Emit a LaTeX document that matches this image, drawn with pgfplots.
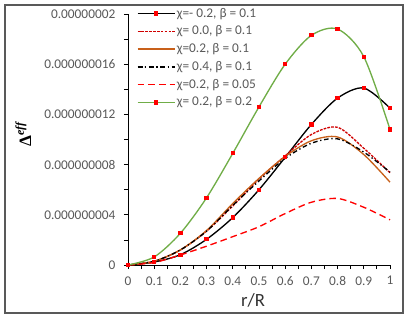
\documentclass[border=0pt]{standalone}
\usepackage{pgfplots}
\pgfplotsset{compat=1.18}
\usepackage{fontspec}
\setmainfont{Carlito}
\newfontfamily\serifl{Liberation Serif}
\definecolor{tickgray}{HTML}{595959}
\definecolor{bordergray}{HTML}{595959}
\definecolor{dred}{HTML}{D00000}
\definecolor{orangeb}{HTML}{C8601A}
\definecolor{exgreen}{HTML}{70AD47}
\definecolor{exred}{HTML}{FF0000}
\newcommand{\legtxt}[1]{\textcolor{tickgray}{#1}}
\begin{document}
\begin{tikzpicture}
\useasboundingbox (-96pt,-42.75pt) rectangle (210pt,198.75pt);
\draw[bordergray, line width=0.8pt] (-92.25pt,-36pt) rectangle (206.25pt,195pt);
\begin{axis}[
  at={(0pt,0pt)}, anchor=south west,
  scale only axis, width=196.5pt, height=188.25pt,
  xmin=0, xmax=1, ymin=0, ymax=2e-8,
  axis x line*=bottom, axis y line*=left,
  axis line style={black, line width=0.6pt, -},
  clip=false,
  tick align=outside,
  major tick length=3pt, minor tick length=3pt,
  every tick/.style={black, line width=0.6pt},
  xtick={0,0.1,0.2,0.3,0.4,0.5,0.6,0.7,0.8,0.9,1},
  xticklabels={0,0.1,0.2,0.3,0.4,0.5,0.6,0.7,0.8,0.9,1},
  minor xtick={0.05,0.15,0.25,0.35,0.45,0.55,0.65,0.75,0.85,0.95},
  ytick={0,4e-9,8e-9,1.2e-8,1.6e-8,2e-8},
  yticklabels={0,0.000000004,0.000000008,0.000000012,0.000000016,0.00000002},
  minor ytick={2e-9,6e-9,1e-8,1.4e-8,1.8e-8},
  scaled y ticks=false, scaled x ticks=false,
  tick label style={font=\fontsize{10}{12}\selectfont, text=tickgray},
  yticklabel style={xshift=-3pt},
  xticklabel style={yshift=-2pt},
  xlabel={r/R},
  xlabel style={at={(axis description cs:0.477,-0.143)}, anchor=center, font=\fontsize{14}{16}\selectfont, text=black!80},
  ylabel={\serifl\bfseries Δ\raisebox{0.9ex}{\fontsize{9}{10}\selectfont\itshape eff}},
  ylabel style={at={(axis description cs:-0.40,0.52)}, anchor=center, font=\fontsize{13}{15}\selectfont},
  legend style={draw=none, fill=none, at={(axis description cs:0.033,1.03)}, anchor=north west,
    font=\fontsize{10}{12}\selectfont, inner sep=0pt, row sep=3pt,
    nodes={inner sep=1pt}},
  legend cell align=left,
  legend image code/.code={\draw[line width=1pt, mark repeat=2,mark phase=2,#1] plot coordinates {(0pt,0pt) (14pt,0pt) (28pt,0pt)};},
  every axis plot/.append style={line width=1pt, smooth},
]
\addplot[color=black, mark=square*, mark size=1.1pt, mark options={fill=exred, draw=exred, solid}] coordinates {
(0,0) (0.1,2.4e-10) (0.2,8.2e-10) (0.3,2.05e-9) (0.4,3.78e-9) (0.5,6.0e-9) (0.6,8.58e-9) (0.7,1.12e-8) (0.8,1.33e-8) (0.9,1.41e-8) (1,1.25e-8)};
\addlegendentry{\legtxt{χ=- 0.2, β = 0.1}}
\addplot[color=dred, dash pattern=on 2pt off 0.9pt] coordinates {
(0,0) (0.1,3.0e-10) (0.2,1.2e-9) (0.3,2.7e-9) (0.4,4.7e-9) (0.5,6.85e-9) (0.6,8.7e-9) (0.7,1.04e-8) (0.8,1.097e-8) (0.9,9.3e-9) (1,7.35e-9)};
\addlegendentry{\legtxt{χ= 0.0, β = 0.1}}
\addplot[color=orangeb] coordinates {
(0,0) (0.1,3.0e-10) (0.2,1.2e-9) (0.3,2.75e-9) (0.4,4.9e-9) (0.5,6.9e-9) (0.6,8.65e-9) (0.7,9.9e-9) (0.8,1.02e-8) (0.9,8.8e-9) (1,6.6e-9)};
\addlegendentry{\legtxt{χ=0.2, β = 0.1}}
\addplot[color=black, dash pattern=on 3.5pt off 2pt on 1pt off 2pt] coordinates {
(0,0) (0.1,3.0e-10) (0.2,1.2e-9) (0.3,2.7e-9) (0.4,4.75e-9) (0.5,6.7e-9) (0.6,8.5e-9) (0.7,9.7e-9) (0.8,1.005e-8) (0.9,9.0e-9) (1,7.4e-9)};
\addlegendentry{\legtxt{χ= 0.4, β = 0.1}}
\addplot[color=exred, dash pattern=on 5pt off 3pt] coordinates {
(0,0) (0.1,2.0e-10) (0.2,8.0e-10) (0.3,1.5e-9) (0.4,2.26e-9) (0.5,3.05e-9) (0.6,4.1e-9) (0.7,5.0e-9) (0.8,5.3e-9) (0.9,4.6e-9) (1,3.6e-9)};
\addlegendentry{\legtxt{χ=0.2, β = 0.05}}
\addplot[color=exgreen, mark=square*, mark size=1.1pt, mark options={fill=exred, draw=exred, solid}] coordinates {
(0,0) (0.1,6.4e-10) (0.2,2.53e-9) (0.3,5.36e-9) (0.4,8.9e-9) (0.5,1.26e-8) (0.6,1.60e-8) (0.7,1.83e-8) (0.8,1.88e-8) (0.9,1.66e-8) (1,1.08e-8)};
\addlegendentry{\legtxt{χ= 0.2, β = 0.2}}
\end{axis}
\end{tikzpicture}
\end{document}
